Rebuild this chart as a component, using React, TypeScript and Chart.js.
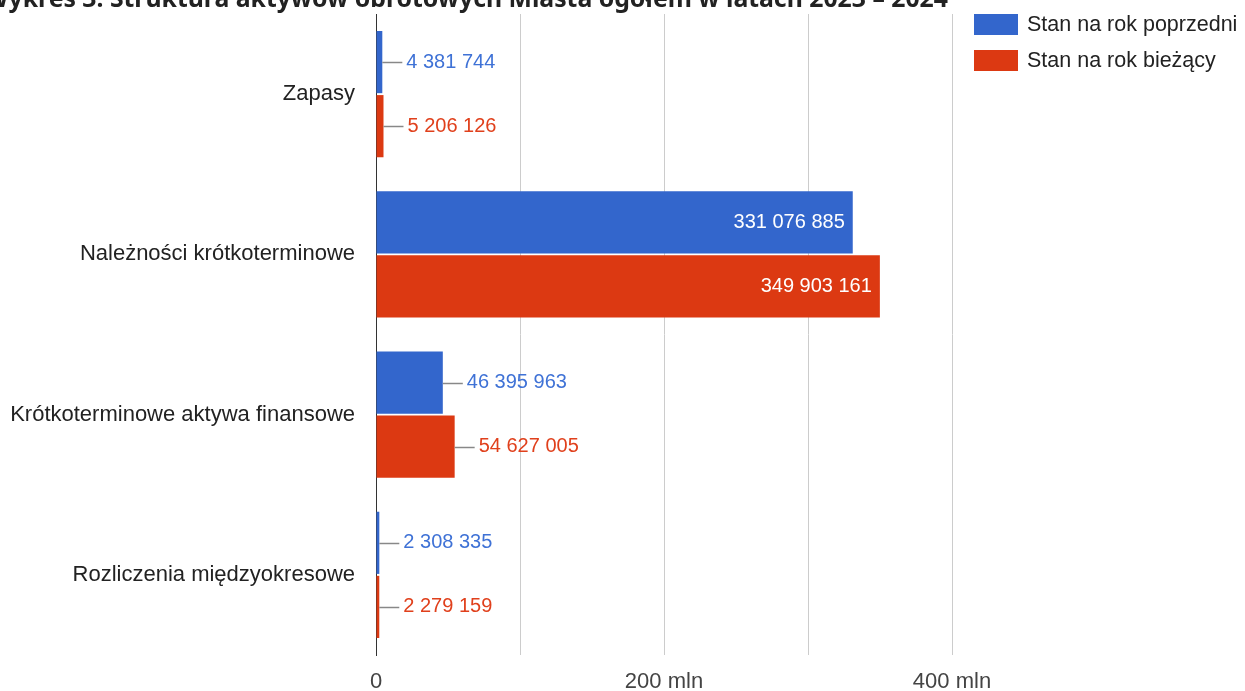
import React, { useEffect, useRef } from 'react';
import { Chart, registerables } from 'chart.js';

Chart.register(...registerables);

const TITLE = 'Wykres 3. Struktura aktywów obrotowych Miasta ogółem w latach 2023 – 2024';
const categories = [
  'Zapasy',
  'Należności krótkoterminowe',
  'Krótkoterminowe aktywa finansowe',
  'Rozliczenia międzyokresowe',
];
const previousYear = [4381744, 331076885, 46395963, 2308335];
const currentYear = [5206126, 349903161, 54627005, 2279159];
const seriesNames = ['Stan na rok poprzedni', 'Stan na rok bieżący'];
const seriesColors = ['#3366cc', '#dc3912'];
const labelColors = ['#3f72d6', '#e0401c'];
const xTickValues = [0, 100000000, 200000000, 300000000, 400000000];
const xTickLabels = ['0', '', '200 mln', '', '400 mln'];

const FONT = '"Liberation Sans", Arial, sans-serif';

const fmt = (n: number) => String(n).replace(/\B(?=(\d{3})+(?!\d))/g, ' ');

const labelPlugin = {
  id: 'barLabels',
  afterDatasetsDraw(chart: any) {
    const ctx = chart.ctx;
    ctx.save();
    ctx.font = `20px ${FONT}`;
    ctx.textBaseline = 'middle';
    chart.data.datasets.forEach((ds: any, di: number) => {
      const meta = chart.getDatasetMeta(di);
      meta.data.forEach((bar: any, i: number) => {
        const v = ds.data[i] as number;
        const txt = fmt(v);
        const w = ctx.measureText(txt).width;
        const { x, y, base } = bar.getProps(['x', 'y', 'base'], true);
        const barW = x - base;
        if (w + 16 < barW) {
          ctx.fillStyle = '#ffffff';
          ctx.textAlign = 'right';
          ctx.fillText(txt, x - 8, y);
        } else {
          const ly = Math.round(y) + 0.5;
          ctx.strokeStyle = '#888888';
          ctx.lineWidth = 1.5;
          ctx.beginPath();
          ctx.moveTo(x, ly);
          ctx.lineTo(x + 20, ly);
          ctx.stroke();
          ctx.fillStyle = labelColors[di];
          ctx.textAlign = 'left';
          ctx.fillText(txt, x + 24, y);
        }
      });
    });
    ctx.restore();
  },
};

export default function App() {
  const canvasRef = useRef<HTMLCanvasElement | null>(null);

  useEffect(() => {
    document.body.style.margin = '0';
    const canvas = canvasRef.current;
    if (!canvas) return;
    const chart = new Chart(canvas, {
      type: 'bar',
      data: {
        labels: categories,
        datasets: [
          {
            label: seriesNames[0],
            data: previousYear,
            backgroundColor: seriesColors[0],
            categoryPercentage: 0.8,
            barPercentage: 0.97,
          },
          {
            label: seriesNames[1],
            data: currentYear,
            backgroundColor: seriesColors[1],
            categoryPercentage: 0.8,
            barPercentage: 0.97,
          },
        ],
      },
      options: {
        indexAxis: 'y',
        responsive: false,
        animation: false,
        devicePixelRatio: 1,
        layout: { padding: { top: 14, right: 293, bottom: 0, left: 0 } },
        plugins: {
          legend: { display: false },
          tooltip: { enabled: false },
          title: { display: false },
        },
        scales: {
          x: {
            type: 'linear',
            min: 0,
            max: 400000000,
            afterBuildTicks: (scale: any) => {
              scale.ticks = xTickValues.map((v) => ({ value: v }));
            },
            afterFit: (scale: any) => {
              scale.height = 36;
              scale.paddingLeft = 0;
              scale.paddingRight = 0;
              scale.paddingTop = 0;
              scale.paddingBottom = 0;
            },
            ticks: {
              autoSkip: false,
              maxRotation: 0,
              padding: 14,
              color: '#444444',
              font: { family: FONT, size: 22 },
              callback: (_v: any, idx: number) => xTickLabels[idx],
            },
            grid: {
              drawTicks: false,
              color: (c: any) => (c.tick && c.tick.value === 0 ? '#333333' : '#cccccc'),
              lineWidth: 1,
            },
            border: { display: false },
          },
          y: {
            type: 'category',
            afterFit: (scale: any) => {
              scale.width = 376;
              scale.paddingTop = 0;
              scale.paddingBottom = 0;
              scale.paddingLeft = 0;
              scale.paddingRight = 0;
            },
            ticks: {
              padding: 21,
              color: '#222222',
              font: { family: FONT, size: 22 },
            },
            grid: { display: false, drawTicks: false },
            border: { display: true, color: '#333333', width: 1 },
          },
        },
      },
      plugins: [labelPlugin],
    });
    return () => chart.destroy();
  }, []);

  return (
    <div
      style={{
        position: 'fixed',
        left: 0,
        top: 0,
        width: 1245,
        height: 691,
        overflow: 'hidden',
        background: '#ffffff',
      }}
    >
      <canvas ref={canvasRef} width={1245} height={691} style={{ position: 'absolute', left: 0, top: 0 }} />
      <div
        style={{
          position: 'absolute',
          right: 297,
          top: -15,
          whiteSpace: 'nowrap',
          font: `bold 24.8px "Noto Sans", "Open Sans", sans-serif`,
          lineHeight: '24.8px',
          color: '#222222',
        }}
      >
        {TITLE}
      </div>
      {seriesNames.map((name, i) => (
        <div key={name} style={{ position: 'absolute', left: 974, top: 14 + i * 36, height: 21 }}>
          <div
            style={{
              position: 'absolute',
              left: 0,
              top: 0,
              width: 44,
              height: 21,
              background: seriesColors[i],
            }}
          />
          <div
            style={{
              position: 'absolute',
              left: 53,
              top: -2,
              whiteSpace: 'nowrap',
              font: `21.5px ${FONT}`,
              lineHeight: '25px',
              color: '#222222',
            }}
          >
            {name}
          </div>
        </div>
      ))}
    </div>
  );
}
